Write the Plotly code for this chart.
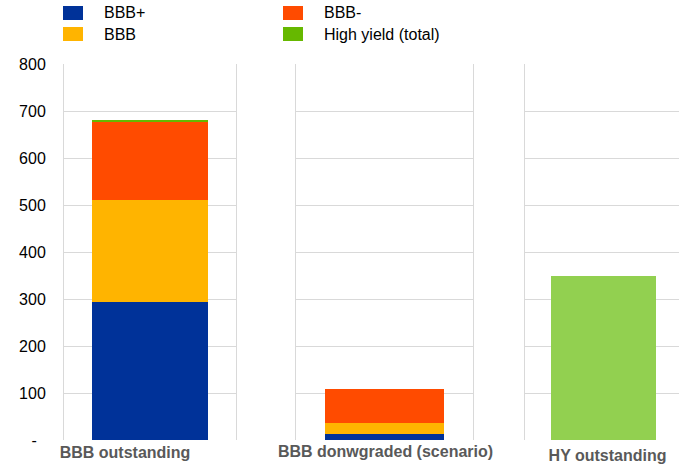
import plotly.graph_objects as go

categories = ["BBB outstanding", "BBB donwgraded (scenario)", "HY outstanding"]
bbb_plus = [294, 13, 0]
bbb = [217, 24, 0]
bbb_minus = [167, 72, 0]
high_yield = [2, 0, 350]

series_names = ["BBB+", "BBB", "BBB-", "High yield (total)"]
series_values = [bbb_plus, bbb, bbb_minus, high_yield]
series_colors = [
    ["#003299"] * 3,
    ["#FFB400"] * 3,
    ["#FF4B00"] * 3,
    ["#66B800", "#66B800", "#92D050"],
]
legend_colors = ["#003299", "#FFB400", "#FF4B00", "#66B800"]

y_tickvals = [0, 100, 200, 300, 400, 500, 600, 700, 800]
y_ticktext = ["-\u00a0\u00a0", "100", "200", "300", "400", "500", "600", "700", "800"]

W, H = 679, 464
ML, MR, MT, MB = 64, 0, 64, 24
PW, PH = W - ML - MR, H - MT - MB


def px_x(p):
    return (p - ML) / PW


def px_y(p):
    return (H - MB - p) / PH


fig = go.Figure()
for s_name, s_vals, s_cols in zip(series_names, series_values, series_colors):
    for i, cat in enumerate(categories):
        suffix = "" if i == 0 else str(i + 1)
        fig.add_trace(go.Bar(
            x=[cat], y=[s_vals[i]], name=s_name,
            marker=dict(color=s_cols[i], line=dict(width=0)),
            width=0.67, xaxis="x" + suffix, yaxis="y" + suffix,
            showlegend=False,
        ))

domains = [[px_x(64), px_x(236)], [px_x(296), px_x(473)], [px_x(525), 1.0]]
ranges = [[-0.5, 0.5], [-0.5, 0.5], [-0.5, 0.48]]
shifts = [-25, 1, 4]
standoffs = [1, 0, 4]

layout = dict(
    width=W, height=H, barmode="stack",
    margin=dict(l=ML, r=MR, t=MT, b=MB, autoexpand=False),
    paper_bgcolor="white", plot_bgcolor="white",
    font=dict(family="Liberation Sans, Arial, sans-serif", size=16, color="black"),
    showlegend=False,
)
for i in range(3):
    suffix = "" if i == 0 else str(i + 1)
    layout["xaxis" + suffix] = dict(
        domain=domains[i], range=ranges[i], anchor="y" + suffix,
        showgrid=False, zeroline=False, showline=False, ticks="",
        tickfont=dict(family="Liberation Sans, Arial, sans-serif", size=16,
                      color="#595959", weight="bold"),
        ticklabelshift=shifts[i], ticklabelstandoff=standoffs[i],
        automargin=False, fixedrange=True,
    )
    layout["yaxis" + suffix] = dict(
        range=[0, 800], anchor="x" + suffix,
        tickvals=y_tickvals, ticktext=y_ticktext,
        showticklabels=(i == 0),
        showgrid=True, gridcolor="#D9D9D9", gridwidth=1,
        zeroline=False, showline=True, linecolor="#D9D9D9", linewidth=1,
        mirror=(i < 2), ticks="", ticklabelstandoff=14,
        automargin=False, fixedrange=True,
        **({} if i == 0 else {"matches": "y"}),
    )
fig.update_layout(**layout)

# legend (two columns, drawn manually)
legend_pos = [(63, 6), (63, 27), (283, 6), (283, 27)]
shapes = []
annotations = []
for name, col, (lx, ly) in zip(series_names, legend_colors, legend_pos):
    shapes.append(dict(type="rect", xref="paper", yref="paper",
                       x0=px_x(lx), x1=px_x(lx + 20), y0=px_y(ly + 14), y1=px_y(ly),
                       fillcolor=col, line=dict(width=0)))
    annotations.append(dict(xref="paper", yref="paper", x=px_x(lx + 39), y=px_y(ly + 7),
                            xanchor="left", yanchor="middle", text=name, showarrow=False,
                            font=dict(size=16, color="black")))
fig.update_layout(shapes=shapes, annotations=annotations)

fig.write_html("out.html")
